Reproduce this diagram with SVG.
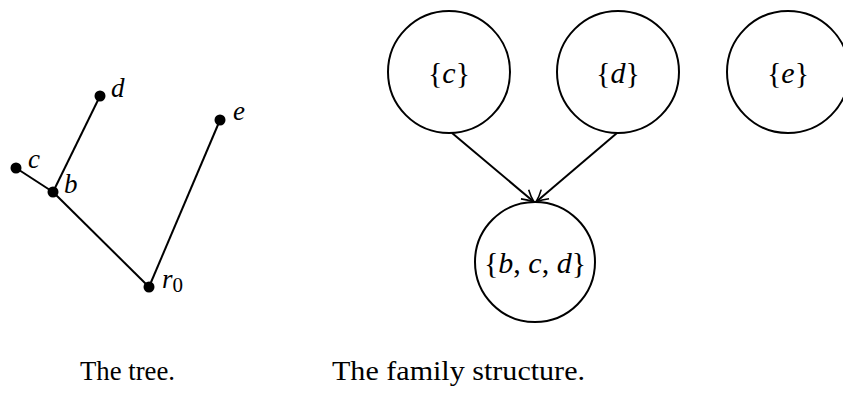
<svg xmlns="http://www.w3.org/2000/svg" width="843" height="400" viewBox="0 0 843 400">
<style>
.edge{stroke:#000;stroke-width:2;fill:none}
.dot{fill:#000}
.lbl{font-family:"Liberation Serif","Times New Roman",serif;font-style:italic;font-size:27px;fill:#000}
.node circle{fill:#fff;stroke:#000;stroke-width:2}
.ntxt{font-family:"Liberation Serif","Times New Roman",serif;font-size:30px;fill:#000;text-anchor:middle}
.i{font-family:"Liberation Serif","Times New Roman",serif;font-style:italic}
.cap{font-family:"Liberation Serif","Times New Roman",serif;font-size:27px;fill:#000}
</style>
<defs>
<marker id="arr" markerWidth="16" markerHeight="16" refX="13" refY="8" orient="auto" markerUnits="userSpaceOnUse">
<path d="M1,2 Q7,6 13,8 Q7,10 1,14" fill="none" stroke="#000" stroke-width="1.6"/>
</marker>
</defs>
<g id="tree">
<g id="tree-edges">
<line class="edge" x1="100" y1="96" x2="53" y2="192"/>
<line class="edge" x1="16" y1="168" x2="53" y2="192"/>
<line class="edge" x1="53" y1="192" x2="149" y2="287"/>
<line class="edge" x1="220" y1="120" x2="149" y2="287"/>
</g>
<g id="t-d"><circle class="dot" cx="100" cy="96" r="5.5"/><text class="lbl" x="111" y="97">d</text></g>
<g id="t-e"><circle class="dot" cx="220" cy="120" r="5.5"/><text class="lbl" x="233" y="120">e</text></g>
<g id="t-c"><circle class="dot" cx="16" cy="168" r="5.5"/><text class="lbl" x="28" y="168">c</text></g>
<g id="t-b"><circle class="dot" cx="53" cy="192" r="5.5"/><text class="lbl" x="64" y="193">b</text></g>
<g id="t-r0"><circle class="dot" cx="149" cy="287" r="5.5"/><text class="lbl" x="162" y="288">r<tspan font-style="normal" font-size="21" dy="4">0</tspan></text></g>
</g>
<g id="connectors">
<line class="edge" x1="452" y1="133" x2="534" y2="202" marker-end="url(#arr)"/>
<line class="edge" x1="617" y1="133" x2="536" y2="202" marker-end="url(#arr)"/>
</g>
<g id="n-c" class="node"><circle cx="449" cy="72" r="61"/><text class="ntxt" x="449" y="83">{<tspan class="i">c</tspan>}</text></g>
<g id="n-d" class="node"><circle cx="618" cy="72" r="61"/><text class="ntxt" x="618" y="83">{<tspan class="i">d</tspan>}</text></g>
<g id="n-e" class="node"><circle cx="788" cy="72" r="61"/><text class="ntxt" x="788" y="83">{<tspan class="i">e</tspan>}</text></g>
<g id="n-bcd" class="node"><circle cx="535" cy="262" r="60"/><text class="ntxt" x="535" y="273">{<tspan class="i">b</tspan>, <tspan class="i">c</tspan>, <tspan class="i">d</tspan>}</text></g>
<text class="cap" x="80" y="380" textLength="95" lengthAdjust="spacingAndGlyphs">The tree.</text>
<text class="cap" x="332" y="380" textLength="253" lengthAdjust="spacingAndGlyphs">The family structure.</text>
</svg>
